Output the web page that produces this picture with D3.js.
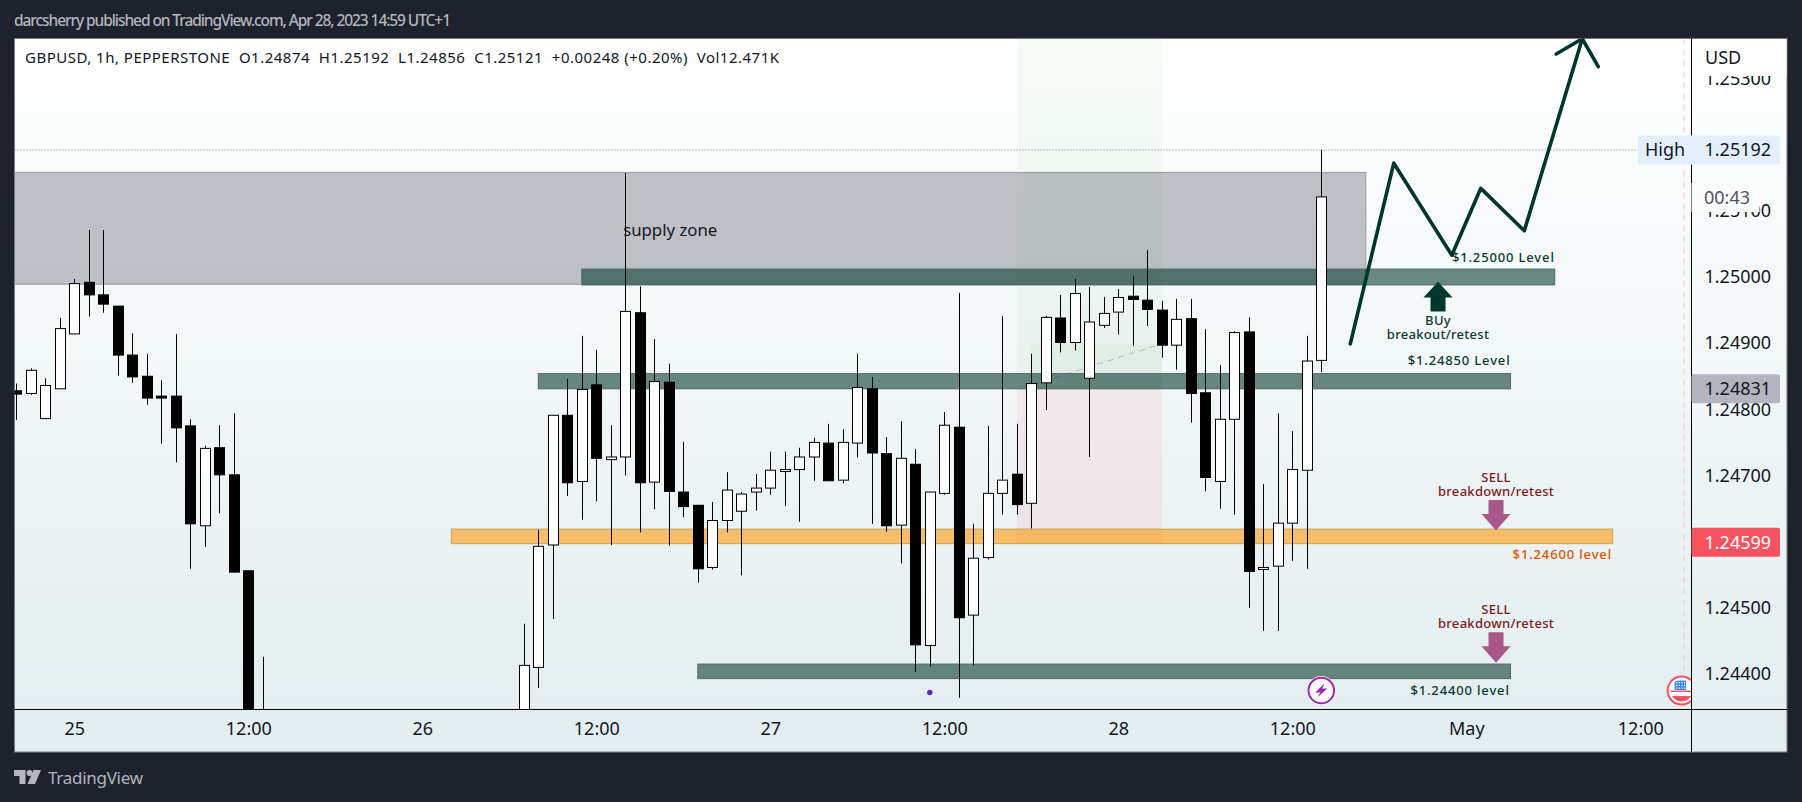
<!DOCTYPE html>
<html>
<head>
<meta charset="utf-8">
<title>GBPUSD 1h</title>
<script src="https://d3js.org/d3.v7.min.js"></script>
<style>
  html, body { margin: 0; padding: 0; background: #1e222d; }
  svg { display: block; }
  text { font-family: "Noto Sans", sans-serif; white-space: pre; }
  .axis text { font-size: 18px; fill: #131722; }
  .note { font-size: 13px; font-weight: 500; letter-spacing: 0.3px; }
  .lvl { letter-spacing: 0.85px; }
</style>
</head>
<body>
<script>
// hours counted from Apr 25 00:00, candles 14..30 are below the visible range
var candleHours = d3.range(-4, 14).concat(d3.range(31, 87));

var opens = [
  1.24828, 1.24824, 1.24786, 1.24831, 1.24914, 1.24992, 1.24973, 1.24956, 1.24882, 1.24850,
  1.24820, 1.24820, 1.24775, 1.24624, 1.24742, 1.24701, 1.24556, 1.24330,
  1.24320, 1.24410, 1.24595, 1.24791, 1.24691, 1.24837, 1.24724, 1.24728, 1.24946, 1.24690,
  1.24841, 1.24675, 1.24655, 1.24561, 1.24632, 1.24646, 1.24675, 1.24681, 1.24706, 1.24709,
  1.24728, 1.24749, 1.24693, 1.24749, 1.24831, 1.24733, 1.24625, 1.24717, 1.24443, 1.24673,
  1.24773, 1.24489, 1.24576, 1.24673, 1.24702, 1.24658, 1.24840, 1.24938, 1.24901, 1.24847,
  1.24927, 1.24947, 1.24971, 1.24965, 1.24950, 1.24897, 1.24937, 1.24825, 1.24691, 1.24785,
  1.24917, 1.24558, 1.24563, 1.24628, 1.24708, 1.24874
];
var highs = [
  1.24839, 1.24862, 1.24847, 1.24938, 1.24997, 1.25071, 1.25071, 1.24956, 1.24915, 1.24884,
  1.24844, 1.24914, 1.24785, 1.24745, 1.24776, 1.24794, 1.24556, 1.24426,
  1.24476, 1.24618, 1.24791, 1.24846, 1.24911, 1.24890, 1.24776, 1.25157, 1.24986, 1.24906,
  1.24869, 1.24751, 1.24655, 1.24660, 1.24705, 1.24675, 1.24702, 1.24736, 1.24736, 1.24742,
  1.24757, 1.24778, 1.24770, 1.24884, 1.24849, 1.24758, 1.24782, 1.24740, 1.24675, 1.24796,
  1.24976, 1.24627, 1.24775, 1.24941, 1.24778, 1.24884, 1.24941, 1.24973, 1.24997, 1.24985,
  1.24970, 1.24982, 1.25002, 1.25041, 1.24964, 1.24967, 1.24967, 1.24921, 1.24867, 1.24918,
  1.24939, 1.24687, 1.24794, 1.24767, 1.24911, 1.25192
];
var lows = [
  1.24784, 1.24822, 1.24786, 1.24831, 1.24914, 1.24940, 1.24946, 1.24851, 1.24840, 1.24807,
  1.24748, 1.24720, 1.24559, 1.24592, 1.24643, 1.24553, 1.24300, 1.24280,
  1.24300, 1.24379, 1.24483, 1.24669, 1.24633, 1.24661, 1.24595, 1.24700, 1.24614, 1.24649,
  1.24594, 1.24637, 1.24538, 1.24558, 1.24614, 1.24549, 1.24647, 1.24671, 1.24654, 1.24630,
  1.24692, 1.24692, 1.24688, 1.24727, 1.24627, 1.24615, 1.24567, 1.24403, 1.24411, 1.24671,
  1.24364, 1.24413, 1.24573, 1.24641, 1.24641, 1.24620, 1.24799, 1.24886, 1.24889, 1.24728,
  1.24923, 1.24913, 1.24896, 1.24926, 1.24878, 1.24860, 1.24780, 1.24676, 1.24650, 1.24641,
  1.24500, 1.24465, 1.24465, 1.24571, 1.24559, 1.24856
];
var closes = [
  1.24823, 1.24859, 1.24836, 1.24922, 1.24990, 1.24973, 1.24959, 1.24882, 1.24849, 1.24817,
  1.24817, 1.24772, 1.24627, 1.24741, 1.24701, 1.24554, 1.24315, 1.24300,
  1.24413, 1.24593, 1.24791, 1.24689, 1.24830, 1.24726, 1.24728, 1.24948, 1.24689, 1.24842,
  1.24676, 1.24653, 1.24559, 1.24632, 1.24678, 1.24672, 1.24681, 1.24708, 1.24709, 1.24728,
  1.24750, 1.24692, 1.24750, 1.24833, 1.24734, 1.24624, 1.24726, 1.24444, 1.24675, 1.24776,
  1.24485, 1.24575, 1.24673, 1.24693, 1.24656, 1.24839, 1.24939, 1.24901, 1.24975, 1.24932,
  1.24945, 1.24969, 1.24966, 1.24951, 1.24897, 1.24936, 1.24824, 1.24697, 1.24785, 1.24916,
  1.24555, 1.24561, 1.24628, 1.24709, 1.24873, 1.25121
];

var timeTicks = [0, 12, 24, 36, 48, 60, 72, 84, 96, 108];
var timeLabels = ["25", "12:00", "26", "12:00", "27", "12:00", "28", "12:00", "May", "12:00"];
var priceTicks = [1.244, 1.245, 1.247, 1.248, 1.249, 1.25, 1.251, 1.253];

// drawn levels: first hour, last hour, top price, bottom price
var levelStart = [32, 26, 43, 35];
var levelEnd = [99.05, 106.1, 99.05, 102.1];
var levelTop = [1.24854, 1.24619, 1.24415, 1.25012];
var levelBottom = [1.24831, 1.24597, 1.24393, 1.24988];
var levelKind = ["green", "orange", "green", "green"];

// projected path drawn on the chart
var pathHours = [88, 91, 95, 97, 100, 104];
var pathPrices = [1.24899, 1.25172, 1.25033, 1.25134, 1.25070, 1.25360];
var headHours = [102.2, 104, 105.1];
var headPrices = [1.25337, 1.25360, 1.25318];

var W = 1802, H = 802;
var left = 14.5, top_ = 38.5, right = 1787, bottom = 752;
var axisX = 1691.5, timeY = 709.5;

var x = d3.scaleLinear().domain([0, 100]).range([74.3, 1524.3]);
var y = d3.scaleLinear().domain([1.244, 1.25]).range([674, 277]);

var svg = d3.select("body").append("svg").attr("width", W).attr("height", H);
var defs = svg.append("defs");

var grad = defs.append("linearGradient").attr("id", "bg").attr("x1", 0).attr("y1", 0).attr("x2", 0).attr("y2", 1);
grad.append("stop").attr("offset", "0%").attr("stop-color", "#ffffff");
grad.append("stop").attr("offset", "100%").attr("stop-color", "#e2edef");

defs.append("clipPath").attr("id", "plot").append("rect")
  .attr("x", left).attr("y", top_).attr("width", axisX - left).attr("height", timeY - top_);

// header and footer
svg.append("text").attr("x", 14).attr("y", 26).attr("fill", "#b2b5be").style("font-size", "15.5px").style("font-weight", 500)
  .attr("textLength", 437).text("darcsherry published on TradingView.com, Apr 28, 2023 14:59 UTC+1");

svg.append("rect").attr("x", left).attr("y", top_).attr("width", right - left).attr("height", bottom - top_)
  .attr("fill", "url(#bg)").attr("stroke", "#787b86");

var plot = svg.append("g").attr("clip-path", "url(#plot)");

// supply zone
plot.append("rect").attr("x", x(-10)).attr("y", y(1.25158))
  .attr("width", x(89.07) - x(-10)).attr("height", y(1.24989) - y(1.25158))
  .attr("fill", "rgba(120,123,134,0.45)").attr("stroke", "#9a9ba0");

// position tool
plot.append("rect").attr("x", x(65)).attr("y", top_).attr("width", x(75) - x(65)).attr("height", y(1.24831) - top_)
  .attr("fill", "rgba(76,175,80,0.05)");
plot.append("rect").attr("x", x(65)).attr("y", y(1.24831)).attr("width", x(75) - x(65)).attr("height", y(1.24597) - y(1.24831))
  .attr("fill", "rgba(242,54,69,0.07)");
plot.append("rect").attr("x", x(66)).attr("y", y(1.24899)).attr("width", x(75) - x(66)).attr("height", y(1.24831) - y(1.24899))
  .attr("fill", "rgba(76,175,80,0.06)");
plot.append("line").attr("x1", x(66.2)).attr("y1", y(1.24838)).attr("x2", x(75)).attr("y2", y(1.24899))
  .attr("stroke", "#787b86").attr("stroke-opacity", 0.45).attr("stroke-dasharray", "6 5");

// level bands
plot.selectAll(".level").data(levelStart).join("rect").attr("class", "level")
  .attr("x", function(d) { return x(d); })
  .attr("y", function(d, i) { return y(levelTop[i]); })
  .attr("width", function(d, i) { return x(levelEnd[i]) - x(d); })
  .attr("height", function(d, i) { return y(levelBottom[i]) - y(levelTop[i]); })
  .attr("fill", function(d, i) { return levelKind[i] == "orange" ? "rgba(254,155,14,0.6)" : "rgba(12,60,48,0.6)"; })
  .attr("stroke", function(d, i) { return levelKind[i] == "orange" ? "#c9a35e" : "#4d6b64"; });

// high line
plot.append("line").attr("x1", left).attr("x2", 1638).attr("y1", y(1.25192)).attr("y2", y(1.25192))
  .attr("stroke", "#787b86").attr("stroke-dasharray", "1 2");

// session break
plot.append("line").attr("x1", 1684).attr("x2", 1684).attr("y1", top_).attr("y2", 670)
  .attr("stroke", "#f7c6d0").attr("stroke-dasharray", "6 5");

// candles
var candles = plot.selectAll(".candle").data(candleHours).join("g").attr("class", "candle");
candles.append("line")
  .attr("x1", function(d) { return Math.round(x(d)) + 0.5; })
  .attr("x2", function(d) { return Math.round(x(d)) + 0.5; })
  .attr("y1", function(d, i) { return y(highs[i]); })
  .attr("y2", function(d, i) { return y(lows[i]); })
  .attr("stroke", "#000");
candles.append("rect")
  .attr("x", function(d) { return Math.round(x(d)) - 4.5; })
  .attr("width", 10)
  .attr("y", function(d, i) { return y(Math.max(opens[i], closes[i])); })
  .attr("height", function(d, i) { return Math.max(1, y(Math.min(opens[i], closes[i])) - y(Math.max(opens[i], closes[i]))); })
  .attr("fill", function(d, i) { return closes[i] >= opens[i] ? "#fff" : "#000"; })
  .attr("stroke", "#000");

// drawn path
var line = d3.line().x(function(d) { return x(d[0]); }).y(function(d) { return y(d[1]); });
plot.append("path").attr("d", line(d3.zip(pathHours, pathPrices)))
  .attr("fill", "none").attr("stroke", "#00362b").attr("stroke-width", 3.6).attr("stroke-linejoin", "round").attr("stroke-linecap", "round");
plot.append("path").attr("d", line(d3.zip(headHours, headPrices)))
  .attr("fill", "none").attr("stroke", "#00362b").attr("stroke-width", 3.6).attr("stroke-linejoin", "round").attr("stroke-linecap", "round");

// block arrows, given tip, shoulder and tail prices
function blockArrow(hour, tip, shoulder, tail, color) {
  var cx = x(hour);
  var pts = [[cx, y(tip)], [cx + 14.5, y(shoulder)], [cx + 7.5, y(shoulder)], [cx + 7.5, y(tail)],
             [cx - 7.5, y(tail)], [cx - 7.5, y(shoulder)], [cx - 14.5, y(shoulder)]];
  plot.append("polygon").attr("points", pts.join(" ")).attr("fill", color);
}
blockArrow(94.05, 1.24993, 1.24969, 1.24948, "#03362c");
blockArrow(98.05, 1.24617, 1.24642, 1.24663, "#a85888");
blockArrow(98.05, 1.24417, 1.24442, 1.24463, "#a85888");

function note(hour, price, str, color, anchor, cls) {
  plot.append("text").attr("class", "note " + (cls || "")).attr("x", x(hour)).attr("y", y(price))
    .attr("dy", "0.35em").attr("text-anchor", anchor || "middle").attr("fill", color).text(str);
}
note(94.05, 1.24935, "BUy", "#0b3b30");
note(94.05, 1.24913, "breakout/retest", "#0b3b30");
note(98.05, 1.24697, "SELL", "#801922");
note(98.05, 1.24676, "breakdown/retest", "#801922");
note(98.05, 1.24498, "SELL", "#801922");
note(98.05, 1.24477, "breakdown/retest", "#801922");
note(102.1, 1.25030, "$1.25000 Level", "#0b3b30", "end", "lvl");
note(99.05, 1.24874, "$1.24850 Level", "#0b3b30", "end", "lvl");
note(106.05, 1.24580, "$1.24600 level", "#e65100", "end", "lvl");
note(99, 1.24375, "$1.24400 level", "#0b3b30", "end", "lvl");

plot.append("text").attr("x", x(37.85)).attr("y", y(1.25071)).attr("dy", "0.35em")
  .attr("fill", "#131722").style("font-size", "16.8px").text("supply zone");

// event markers
plot.append("circle").attr("cx", x(59)).attr("cy", y(1.24372)).attr("r", 2.7).attr("fill", "#5a2db0");

var bolt = plot.append("g").attr("transform", "translate(" + x(86) + "," + y(1.24375) + ")");
bolt.append("circle").attr("r", 14.5).attr("fill", "#fff");
bolt.append("circle").attr("r", 12.8).attr("fill", "#fff").attr("stroke", "#9c27b0").attr("stroke-width", 2);
bolt.append("path").attr("d", "M3,-7 L-6,2 L-1,2 L-4,7 L6,-2 L1,-2 Z").attr("fill", "#9c27b0");

var flag = plot.append("g").attr("transform", "translate(" + x(110.85) + "," + y(1.24375) + ")");
flag.append("circle").attr("r", 14).attr("fill", "#fff").attr("stroke", "#f7525f").attr("stroke-width", 2);
flag.append("clipPath").attr("id", "flagClip").append("circle").attr("r", 11);
var flagInner = flag.append("g").attr("clip-path", "url(#flagClip)");
flagInner.append("rect").attr("x", -12).attr("y", 0).attr("width", 24).attr("height", 1.5).attr("fill", "#f7525f");
flagInner.append("rect").attr("x", -12).attr("y", 5.5).attr("width", 24).attr("height", 6).attr("fill", "#f7525f");
flagInner.append("rect").attr("x", -7).attr("y", -10).attr("width", 11.5).attr("height", 9.5).attr("fill", "#3d8bf2");
d3.range(3).forEach(function(row) {
  d3.range(4).forEach(function(col) {
    flagInner.append("circle").attr("cx", -5 + col * 2.7).attr("cy", -7.8 + row * 2.7).attr("r", 0.7).attr("fill", "#fff");
  });
});

// axes
var timeAxis = d3.axisBottom(x).tickValues(timeTicks)
  .tickFormat(function(d, i) { return timeLabels[i]; }).tickSize(0).tickPadding(13);
var gTime = svg.append("g").attr("class", "axis").attr("transform", "translate(0," + timeY + ")").call(timeAxis);
gTime.select(".domain").remove();

var priceAxis = d3.axisRight(y).tickValues(priceTicks).tickFormat(d3.format(".5f")).tickSize(0).tickPadding(13);
var gPrice = svg.append("g").attr("class", "axis").attr("transform", "translate(" + axisX + ",0)").call(priceAxis);
gPrice.select(".domain").remove();

svg.append("line").attr("x1", left).attr("x2", right).attr("y1", timeY).attr("y2", timeY).attr("stroke", "#000");
svg.append("line").attr("x1", axisX).attr("x2", axisX).attr("y1", top_).attr("y2", bottom).attr("stroke", "#000");

// usd caption covers the top of the 1.25300 tick
svg.append("rect").attr("x", axisX + 0.5).attr("y", top_ + 0.5).attr("width", right - axisX - 1).attr("height", 37).attr("fill", "#fefefe");
svg.append("text").attr("x", 1705).attr("y", 58).attr("dy", "0.35em")
  .attr("fill", "#131722").style("font-size", "18px").text("USD");

function priceTag(price, x0, fill, color, label) {
  svg.append("rect").attr("x", x0).attr("y", y(price) - 14.5).attr("width", 1780 - x0).attr("height", 29)
    .attr("rx", 2).attr("fill", fill);
  svg.append("text").attr("x", 1704.5).attr("y", y(price)).attr("dy", "0.35em").attr("fill", color)
    .style("font-size", "18px").text(d3.format(".5f")(price));
  if (label) {
    svg.append("text").attr("x", 1645).attr("y", y(price)).attr("dy", "0.35em").attr("fill", color)
      .style("font-size", "18px").text(label);
  }
}
priceTag(1.25192, 1638, "#e3effd", "#131722", "High");
priceTag(1.24831, axisX, "#b2b5be", "#131722");
priceTag(1.24599, axisX, "#f7525f", "#ffffff");

// countdown label
svg.append("rect").attr("x", axisX).attr("y", 183).attr("width", 68).attr("height", 29).attr("fill", "#fbfcfc");
svg.append("text").attr("x", 1704).attr("y", 197.5).attr("dy", "0.35em").attr("fill", "#50535e")
  .style("font-size", "18px").text("00:43");

// legend line
svg.append("text").attr("x", 25).attr("y", 58).attr("dy", "0.35em").attr("fill", "#131722")
  .style("font-size", "15px").attr("textLength", 754)
  .text("GBPUSD, 1h, PEPPERSTONE  O1.24874  H1.25192  L1.24856  C1.25121  +0.00248 (+0.20%)  Vol12.471K");

// footer logo
var logo = svg.append("g").attr("fill", "#b2b5be").attr("transform", "translate(14,770)");
logo.append("path").attr("d", "M0,0 H11.5 V14 H5.5 V6 H0 Z");
logo.append("circle").attr("cx", 15.5).attr("cy", 3).attr("r", 3);
logo.append("path").attr("d", "M19.5,0 H27 L21,14 H13.5 Z");
svg.append("text").attr("x", 48).attr("y", 778).attr("dy", "0.35em").attr("fill", "#b2b5be")
  .style("font-size", "17px").attr("textLength", 95).text("TradingView");
</script>
</body>
</html>
